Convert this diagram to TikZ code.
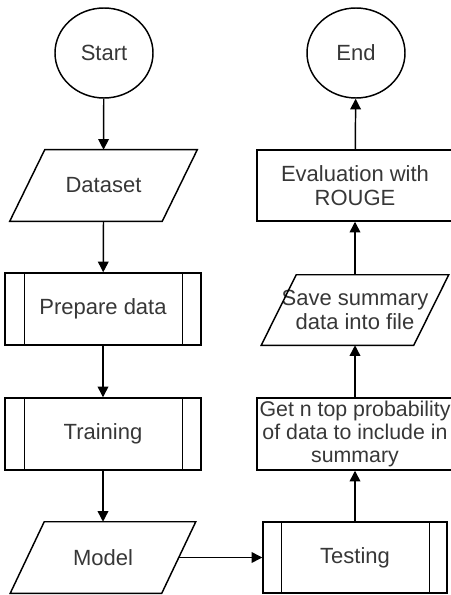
\documentclass[tikz,border=0pt]{standalone}
\usepackage{fontspec}
\setmainfont{Liberation Sans}
\usetikzlibrary{shapes.geometric,arrows.meta,calc}
\definecolor{txt}{RGB}{55,55,55}
\begin{document}
\begin{tikzpicture}[x=0.75pt,y=-0.75pt,
  every node/.style={font=\fontsize{16.5}{17.5}\selectfont, text=txt, align=center, inner sep=0pt},
  line/.style={draw=black, line width=1.1pt},
  arr/.style={line, -{Triangle[length=8pt,width=8pt]}},
  term/.style={ellipse, line, minimum width=73.5pt, minimum height=67.5pt},
  io/.style={minimum width=114pt, minimum height=53.25pt},
  proc/.style={rectangle, line, minimum width=147pt, minimum height=54pt},
  sub/.style={rectangle, line, minimum width=138pt, minimum height=53.25pt}
]
\useasboundingbox (0,0) rectangle (450,595);
% left column
\node[term] (start) at (104,53) {Start};
\node[io] (ds) at (103.5,185.5) {Dataset};
\draw[line] ($(ds.north west)+(17.5,0)$) -- ($(ds.north east)+(17.5,0)$) -- ($(ds.south east)+(-17.5,0)$) -- ($(ds.south west)+(-17.5,0)$) -- cycle;
\node[proc] (prep) at (103,309) {Prepare data};
\draw[line] ($(prep.north west)+(20,0)$) -- ($(prep.south west)+(20,0)$);
\draw[line] ($(prep.north east)+(-19,0)$) -- ($(prep.south east)+(-19,0)$);
\node[proc] (train) at (103,434) {Training};
\draw[line] ($(train.north west)+(20,0)$) -- ($(train.south west)+(20,0)$);
\draw[line] ($(train.north east)+(-19,0)$) -- ($(train.south east)+(-19,0)$);
\node[io, minimum width=113.25pt] (model) at (103,557.5) {Model};
\draw[line] ($(model.north west)+(17,0)$) -- ($(model.north east)+(17,0)$) -- ($(model.south east)+(-17,0)$) -- ($(model.south west)+(-17,0)$) -- cycle;
% right column
\node[sub] (test) at (355,557.5) {Testing};
\draw[line] ($(test.north west)+(19,0)$) -- ($(test.south west)+(19,0)$);
\draw[line] ($(test.north east)+(-18,0)$) -- ($(test.south east)+(-18,0)$);
\node[proc, font=\fontsize{16}{17}\selectfont] (get) at (355,434) {Get n top probability\\of data to include in\\summary};
\node[io, minimum width=114pt, minimum height=52.5pt] (save) at (355,310) {Save summary\\data into file};
\draw[line] ($(save.north west)+(17.5,0)$) -- ($(save.north east)+(17.5,0)$) -- ($(save.south east)+(-17.5,0)$) -- ($(save.south west)+(-17.5,0)$) -- cycle;
\node[proc, minimum height=53.25pt] (eval) at (355,185.5) {Evaluation with\\ROUGE};
\node[term] (end) at (356,53) {End};
% connectors
\draw[arr] (start) -- (ds.north);
\draw[arr] (ds.south) -- (prep);
\draw[arr] (prep) -- (train);
\draw[arr] (train) -- (model.north);
\draw[arr] (model.east) -- (test);
\draw[arr] (test) -- (get);
\draw[arr] (get) -- (save.south);
\draw[arr] (save.north) -- (eval);
\draw[arr] (eval) -- (end);
\end{tikzpicture}
\end{document}
